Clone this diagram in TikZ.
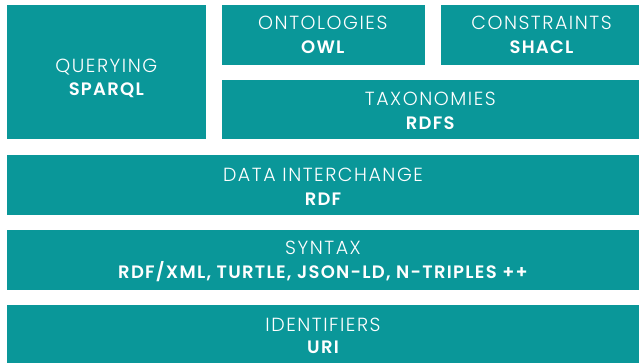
\documentclass[tikz,border=0pt]{standalone}
\usepackage{fontspec}
\newfontfamily\lightf{Poppins Light}[LetterSpace=8]
\newfontfamily\boldf{Poppins SemiBold}[LetterSpace=7]
\definecolor{teal1}{HTML}{0A9799}
\begin{document}
\begin{tikzpicture}[x=1pt,y=-1pt,
  blk/.style={fill=teal1,draw=none},
  cat/.style={anchor=base,text=white,font=\lightf\fontsize{19}{20}\selectfont,inner sep=0pt},
  nm/.style={anchor=base,text=white,font=\boldf\fontsize{18}{20}\selectfont,inner sep=0pt}]
\useasboundingbox[fill=white] (0,0) rectangle (639,363);
\fill[blk] (7,5.3) rectangle (205.7,139.3);
\fill[blk] (222.3,5.3) rectangle (425,65);
\fill[blk] (440.7,5.3) rectangle (639,65);
\fill[blk] (221.7,80) rectangle (639,139.3);
\fill[blk] (7,155) rectangle (639,214.7);
\fill[blk] (7,230) rectangle (639,289.7);
\fill[blk] (7,304.7) rectangle (639,363);
\node[cat] (q) at (106.3,72.3) {QUERYING};
\node[nm] (qs) at (106.3,95.7) {SPARQL};
\node[cat] (o) at (322.8,30) {ONTOLOGIES};
\node[nm] (os) at (322.8,53.3) {OWL};
\node[cat] (c) at (541.5,30) {CONSTRAINTS};
\node[nm] (cs) at (541.5,53.3) {SHACL};
\node[cat] (t) at (430.3,106) {TAXONOMIES};
\node[nm] (ts) at (430.3,129.3) {RDFS};
\node[cat] (d) at (323,182) {DATA INTERCHANGE};
\node[nm] (ds) at (323,205.3) {RDF};
\node[cat] (s) at (323,254.7) {SYNTAX};
\node[nm] (ss) at (323,278) {RDF/XML, TURTLE, JSON-LD, N-TRIPLES ++};
\node[cat] (i) at (323,331) {IDENTIFIERS};
\node[nm] (is) at (323,353.3) {URI};
\end{tikzpicture}
\end{document}
